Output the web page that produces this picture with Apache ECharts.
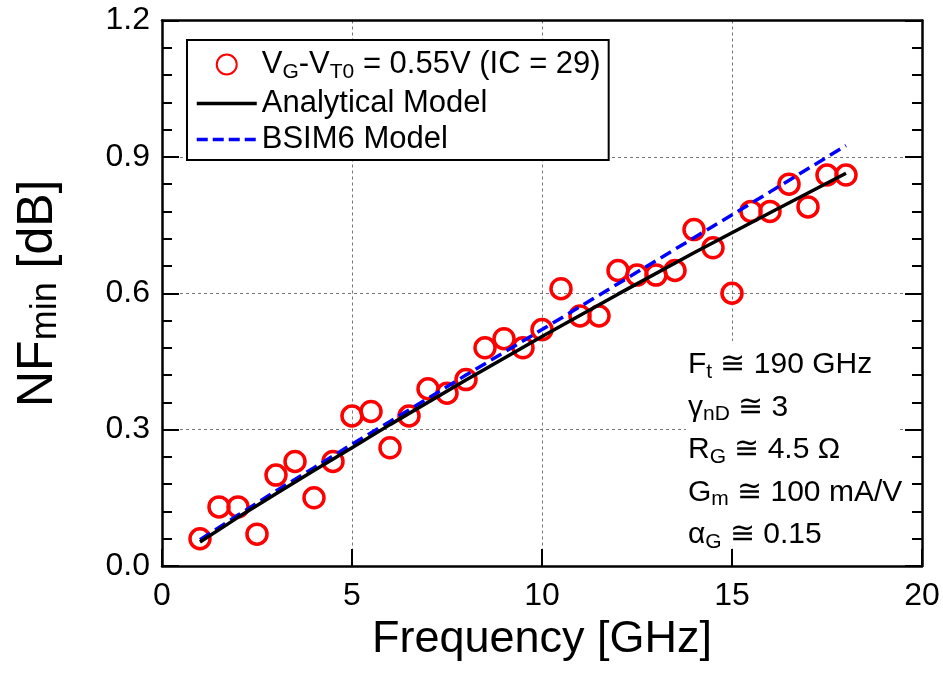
<!DOCTYPE html>
<html>
<head>
<meta charset="utf-8">
<script src="https://cdn.jsdelivr.net/npm/echarts@6/dist/echarts.min.js"></script>
<style>html,body{margin:0;padding:0;background:#fff}#c{width:943px;height:681px}</style>
</head>
<body>
<div id="c"></div>
<script>
// ---- data ----
const freq = [1,1.5,2,2.5,3,3.5,4,4.5,5,5.5,6,6.5,7,7.5,8,8.5,9,9.5,10,10.5,11,11.5,12,12.5,13,13.5,14,14.5,15,15.5,16,16.5,17,17.5,18];
const nfMeasured = [0.06,0.13,0.13,0.07,0.20,0.23,0.15,0.23,0.33,0.34,0.26,0.33,0.39,0.38,0.41,0.48,0.50,0.48,0.52,0.61,0.55,0.55,0.65,0.64,0.64,0.65,0.74,0.70,0.60,0.78,0.78,0.84,0.79,0.86,0.86];
const modelFreq = [1,2,3,4,5,6,8,10,12,14,16,18];
const analytical = [0.053,0.107,0.159,0.210,0.260,0.311,0.409,0.505,0.598,0.689,0.777,0.864];
const bsim6 = [0.058,0.112,0.165,0.216,0.268,0.318,0.420,0.520,0.621,0.722,0.823,0.925];
const seriesNames = ['VG-VT0 = 0.55V (IC = 29)', 'Analytical Model', 'BSIM6 Model'];
const annotations = [
  '{a|F}{s|t}{a| \u2245 190 GHz}',
  '{a|\u03b3}{s|nD}{a| \u2245 3}',
  '{a|R}{s|G}{a| \u2245 4.5 \u03a9}',
  '{a|G}{s|m}{a| \u2245 100 mA/V}',
  '{a|\u03b1}{s|G}{a| \u2245 0.15}'
];
const xTicks = {min: 0, max: 20, interval: 5};
const yTicks = {min: 0, max: 1.2, interval: 0.3};

const FONT = "'Liberation Sans', Arial, sans-serif";
const pair = (xs, ys) => xs.map((x, i) => [x, ys[i]]);

const chart = echarts.init(document.getElementById('c'), null, {renderer: 'canvas'});
const gridDash = {show: true, lineStyle: {color: '#777', width: 1, type: [3, 3]}};
const axisLine = {show: true, onZero: false, lineStyle: {color: '#000', width: 2.5}};

const annGraphics = [{
  type: 'rect', shape: {x: 686, y: 341, width: 214, height: 206},
  style: {fill: '#fff'}, z: 50, silent: true
}].concat(annotations.map((t, i) => ({
  type: 'text', x: 688, y: 365 + i * 42.5, z: 51, silent: true,
  style: {
    text: t, verticalAlign: 'middle', align: 'left', fill: '#000',
    rich: {
      a: {fontFamily: FONT, fontSize: 30, fill: '#000'},
      s: {fontFamily: FONT, fontSize: 21, fill: '#000', padding: [14, 0, 0, 0]}
    }
  }
})));

chart.setOption({
  animation: false,
  backgroundColor: '#fff',
  textStyle: {fontFamily: FONT},
  grid: {left: 162, right: 21, top: 20.5, bottom: 115, containLabel: false},
  legend: {
    orient: 'vertical', left: 187, top: 40,
    padding: [9, 8, 5, 8], itemGap: 5,
    itemWidth: 60, itemHeight: 20, itemTextGap: 7,
    backgroundColor: '#fff', borderColor: '#000', borderWidth: 2,
    data: [
      {name: seriesNames[0]},
      {name: seriesNames[1], itemStyle: {opacity: 0}, lineStyle: {width: 3.5, color: '#000', type: 'solid'}},
      {name: seriesNames[2], itemStyle: {opacity: 0}, lineStyle: {width: 3.5, color: '#0000ff', type: [11, 5]}}
    ],
    formatter: function (name) {
      if (name === seriesNames[0]) return '{a|V}{s|G}{a|-V}{s|T0}{a| = 0.55V (IC = 29)}';
      return '{a|' + name + '}';
    },
    textStyle: {
      color: '#000', fontFamily: FONT, fontSize: 31,
      rich: {
        a: {fontFamily: FONT, fontSize: 31, color: '#000'},
        s: {fontFamily: FONT, fontSize: 21, color: '#000', padding: [16, 0, 0, 0]}
      }
    }
  },
  xAxis: [{
    type: 'value', position: 'bottom', min: xTicks.min, max: xTicks.max, interval: xTicks.interval,
    name: 'Frequency [GHz]', nameLocation: 'middle', nameGap: 50,
    nameTextStyle: {fontFamily: FONT, fontSize: 45, color: '#000'},
    axisLine: axisLine,
    axisTick: {show: true, inside: true, length: 17, lineStyle: {color: '#000', width: 2}},
    minorTick: {show: false},
    axisLabel: {show: true, margin: 14, fontFamily: FONT, fontSize: 32, color: '#000'},
    splitLine: gridDash
  }, {
    type: 'value', position: 'top', min: xTicks.min, max: xTicks.max, interval: xTicks.interval,
    axisLine: axisLine, axisTick: {show: false}, axisLabel: {show: false}, splitLine: {show: false}
  }],
  yAxis: [{
    type: 'value', position: 'left', min: yTicks.min, max: yTicks.max, interval: yTicks.interval,
    name: '{a|NF}{s|min}{a| [dB]}', nameLocation: 'middle', nameGap: 98, nameRotate: 90,
    nameTextStyle: {
      color: '#000',
      rich: {
        a: {fontFamily: FONT, fontSize: 50, color: '#000'},
        s: {fontFamily: FONT, fontSize: 36, color: '#000', padding: [16, 0, 0, 0]}
      }
    },
    axisLine: axisLine,
    axisTick: {show: true, inside: true, length: 17, lineStyle: {color: '#000', width: 2}},
    minorTick: {show: true, splitNumber: 5, length: 10, lineStyle: {color: '#000', width: 2}},
    axisLabel: {show: true, margin: 12, fontFamily: FONT, fontSize: 32, color: '#000',
      formatter: v => v.toFixed(1)},
    splitLine: gridDash
  }, {
    type: 'value', position: 'right', min: yTicks.min, max: yTicks.max, interval: yTicks.interval,
    axisLine: axisLine,
    axisTick: {show: true, inside: true, length: 17, lineStyle: {color: '#000', width: 2}},
    minorTick: {show: true, splitNumber: 5, length: 10, lineStyle: {color: '#000', width: 2}},
    axisLabel: {show: false}, splitLine: {show: false}
  }],
  series: [{
    name: seriesNames[0], type: 'scatter', xAxisIndex: 0, yAxisIndex: 0,
    data: pair(freq, nfMeasured), symbol: 'circle', symbolSize: 20, z: 2,
    itemStyle: {color: 'rgba(255,255,255,0)', borderColor: '#ff0000', borderWidth: 3.5, opacity: 1}
  }, {
    name: seriesNames[1], type: 'line', xAxisIndex: 0, yAxisIndex: 0,
    data: pair(modelFreq, analytical), symbol: 'none', smooth: false, z: 4,
    itemStyle: {color: '#000'},
    lineStyle: {color: '#000', width: 3.5, type: 'solid'}
  }, {
    name: seriesNames[2], type: 'line', xAxisIndex: 0, yAxisIndex: 0,
    data: pair(modelFreq, bsim6), symbol: 'none', smooth: false, z: 3,
    itemStyle: {color: '#0000ff'},
    lineStyle: {color: '#0000ff', width: 3.5, type: [12, 6]}
  }],
  graphic: annGraphics
});
</script>
</body>
</html>
